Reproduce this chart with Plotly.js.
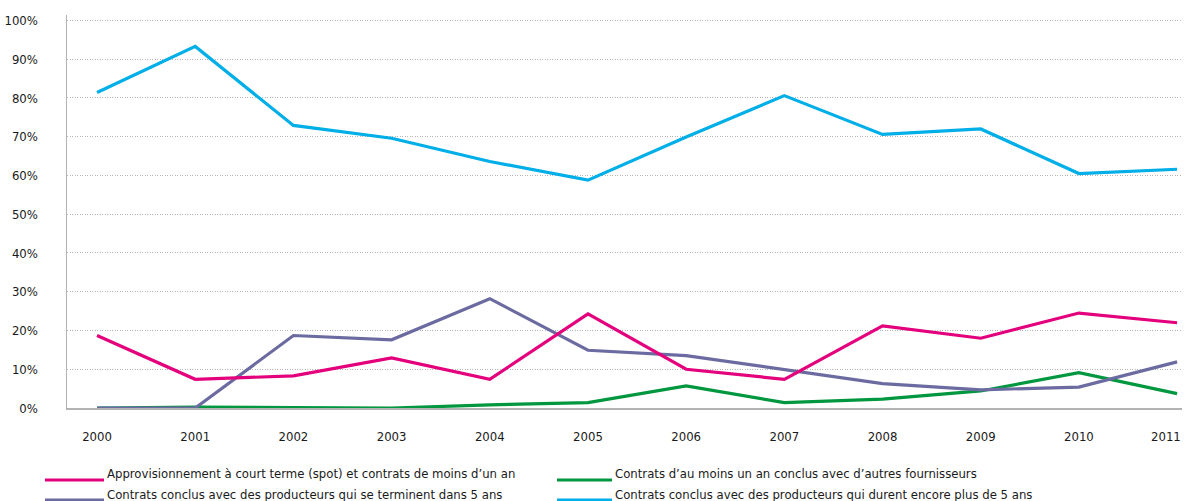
<!DOCTYPE html>
<html>
<head>
<meta charset="utf-8">
<script src="https://cdn.plot.ly/plotly-3.0.1.min.js"></script>
<style>
  html, body { margin: 0; padding: 0; background: #fff; }
  #chart { width: 1184px; height: 501px; }
</style>
</head>
<body>
<div id="chart"></div>
<script>
// Years on the horizontal axis
const years = [2000, 2001, 2002, 2003, 2004, 2005, 2006, 2007, 2008, 2009, 2010, 2011];

// Share of supply by contract type (%)
const spotShort = [18.7, 7.4, 8.3, 12.9, 7.4, 24.3, 10.0, 7.4, 21.2, 18.0, 24.5, 22.0];
const otherSuppliers = [0.0, 0.2, 0.1, 0.0, 0.8, 1.4, 5.7, 1.4, 2.3, 4.4, 9.1, 3.7];
const endingWithin5 = [0.0, 0.0, 18.7, 17.6, 28.2, 14.9, 13.5, 9.8, 6.3, 4.7, 5.4, 11.9];
const beyond5 = [81.4, 93.3, 72.9, 69.6, 63.6, 58.8, 69.9, 80.6, 70.6, 72.0, 60.5, 61.6];

const seriesNames = [
  "Approvisionnement à court terme (spot) et contrats de moins d\u2019un an",
  "Contrats d\u2019au moins un an conclus avec d\u2019autres fournisseurs",
  "Contrats conclus avec des producteurs qui se terminent dans 5 ans",
  "Contrats conclus avec des producteurs qui durent encore plus de 5 ans"
];

const yTicks = [0, 10, 20, 30, 40, 50, 60, 70, 80, 90, 100];
const yTickText = yTicks.map(v => v + "%");

// The last year sits at the right edge of the page: its label is written
// right-aligned as an annotation so it is not clipped.
const lastYear = years[years.length - 1];
const xTickText = years.map(v => (v === lastYear ? "" : String(v)));

const colors = {
  spot: "#E4007D",
  other: "#00973F",
  ending: "#6C6BA1",
  beyond: "#00AEE8"
};

const FONT = "'DejaVu Sans Condensed', 'Liberation Sans Narrow', 'Roboto', sans-serif";

function line(y, name, color) {
  return {
    x: years, y: y, name: name, type: "scatter", mode: "lines",
    line: { color: color, width: 3.2 },
    showlegend: false, hoverinfo: "x+y+name"
  };
}

// drawing order: green underneath, then purple, magenta, blue
const data = [
  line(otherSuppliers, seriesNames[1], colors.other),
  line(endingWithin5, seriesNames[2], colors.ending),
  line(spotShort, seriesNames[0], colors.spot),
  line(beyond5, seriesNames[3], colors.beyond)
];

// Legend keys drawn as short strokes with text beside them (2 columns x 2 rows)
const legendItems = [
  { name: seriesNames[0], color: colors.spot, x0: 45, x1: 104, yText: 473, yLine: 480 },
  { name: seriesNames[1], color: colors.other, x0: 557, x1: 612, yText: 473, yLine: 480 },
  { name: seriesNames[2], color: colors.ending, x0: 45, x1: 104, yText: 494, yLine: 500 },
  { name: seriesNames[3], color: colors.beyond, x0: 557, x1: 612, yText: 494, yLine: 500 }
];

const W = 1184, H = 501;
const M = { l: 67, r: 2, t: 15, b: 93 };
const pw = W - M.l - M.r, ph = H - M.t - M.b;
const shapes = legendItems.map(it => ({
  type: "line", xref: "paper", yref: "paper",
  x0: (it.x0 - M.l) / pw, x1: (it.x1 - M.l) / pw,
  y0: (H - M.b - it.yLine) / ph, y1: (H - M.b - it.yLine) / ph,
  line: { color: it.color, width: 3 }
}));
const annotations = legendItems.map(it => ({
  xref: "paper", yref: "paper",
  x: (it.x1 + 1 - M.l) / pw,
  y: (H - M.b - it.yText) / ph,
  xanchor: "left", yanchor: "middle",
  text: it.name, showarrow: false,
  font: { family: FONT, size: 13, color: "#1a1a1a" }
}));
annotations.push({
  xref: "x", yref: "paper", x: lastYear, y: 0,
  xanchor: "right", yanchor: "middle", xshift: 5, yshift: -28,
  text: String(lastYear), showarrow: false, borderpad: 0,
  font: { family: FONT, size: 13, color: "#1a1a1a" }
});

const layout = {
  width: W, height: H,
  margin: M,
  paper_bgcolor: "#fff", plot_bgcolor: "#fff",
  showlegend: false,
  font: { family: FONT, size: 13, color: "#1a1a1a" },
  xaxis: {
    range: [1999.694, 2011.05],
    tickmode: "array", tickvals: years, ticktext: xTickText,
    showgrid: false, zeroline: false,
    showline: true, linecolor: "#b3b3b3", linewidth: 1.5,
    ticks: "", ticklabelstandoff: 16, ticklabeloverflow: "allow",
    tickfont: { family: FONT, size: 13, color: "#1a1a1a" },
    fixedrange: true
  },
  yaxis: {
    range: [0, 101.4],
    tickmode: "array", tickvals: yTicks, ticktext: yTickText,
    showgrid: true, gridcolor: "#b5b5b5", gridwidth: 1, griddash: "1px,1.5px",
    zeroline: false,
    showline: true, linecolor: "#b3b3b3", linewidth: 1.5,
    ticks: "", ticklabelstandoff: 25,
    tickfont: { family: FONT, size: 13, color: "#1a1a1a" },
    fixedrange: true
  },
  shapes: shapes,
  annotations: annotations
};

Plotly.newPlot("chart", data, layout, { displayModeBar: false, staticPlot: true });
</script>
</body>
</html>
